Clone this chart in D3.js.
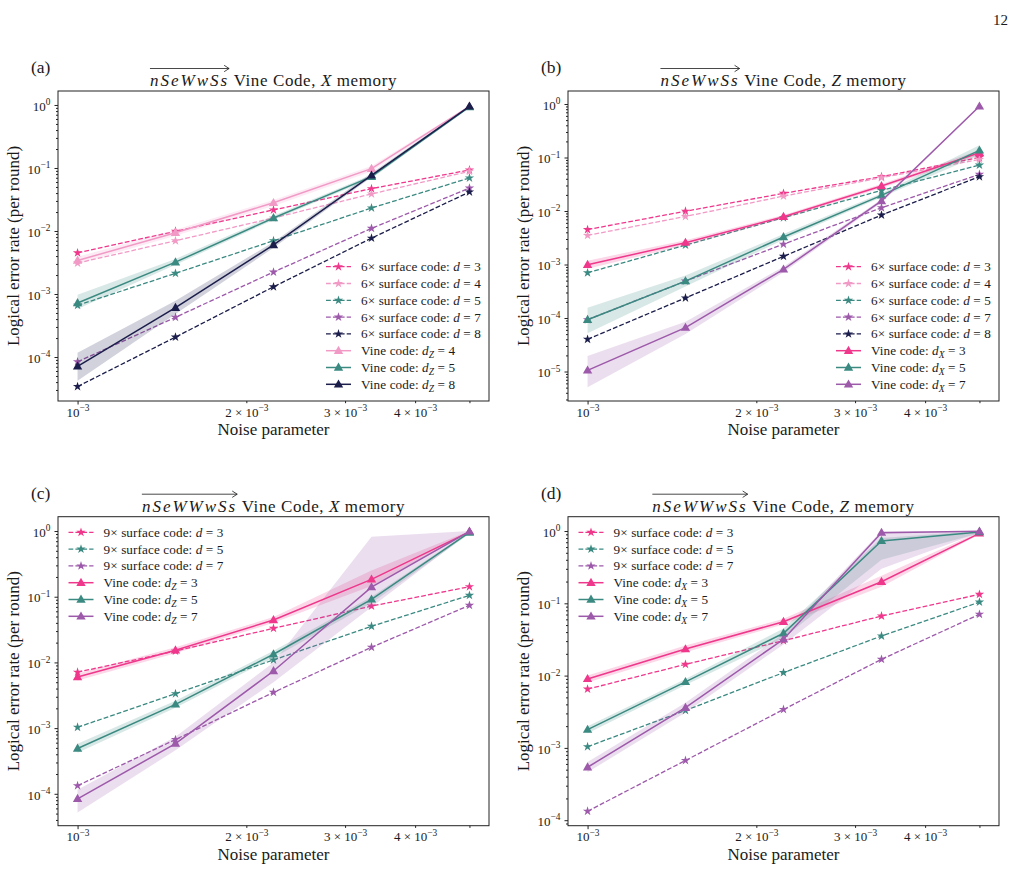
<!DOCTYPE html>
<html><head><meta charset="utf-8">
<script src="https://cdn.jsdelivr.net/npm/d3@7"></script>
<style>
body{margin:0;background:#fff}
svg{display:block}
svg text, svg tspan{font-family:"Liberation Serif","DejaVu Serif",serif;fill:#1a1a1a}
</style>
</head><body>
<svg id="chart" width="1017" height="870" font-family="Liberation Serif, DejaVu Serif, serif"></svg>
<script>
// ---------- data ----------
const noise = [0.001, 0.001495, 0.002236, 0.003344, 0.005];
const xTickValues = [0.001, 0.002, 0.003, 0.004, 0.005];
const xTickPrefix = ["", "2 × ", "3 × ", "4 × ", null];
const xTickExp = ["−3", "−3", "−3", "−3", null];

// Panel (a)
const a_s6_d3 = [4.5e-3, 9.9e-3, 0.0216, 0.047, 0.093];
const a_s6_d4 = [3.1e-3, 7.0e-3, 0.0161, 0.0387, 0.0887];
const a_s6_d5 = [6.6e-4, 2.13e-3, 7.0e-3, 0.0232, 0.0694];
const a_s6_d7 = [8.4e-5, 4.27e-4, 2.23e-3, 0.011, 0.048];
const a_s6_d8 = [3.4e-5, 2.07e-4, 1.3e-3, 7.7e-3, 0.0416];
const a_v4 = [3.4e-3, 9.4e-3, 0.028, 0.0975, 0.95];
const a_v4_lo = [3.0e-3, 8.4e-3, 0.025, 0.088, 0.92];
const a_v4_hi = [3.9e-3, 1.05e-2, 0.031, 0.108, 0.97];
const a_v5 = [7.2e-4, 3.2e-3, 0.0161, 0.0728, 0.93];
const a_v5_lo = [5.8e-4, 2.9e-3, 0.015, 0.068, 0.91];
const a_v5_hi = [9.7e-4, 3.6e-3, 0.0175, 0.078, 0.95];
const a_v8 = [7.1e-5, 6.06e-4, 6.0e-3, 0.0766, 0.95];
const a_v8_lo = [4.2e-5, 4.8e-4, 5.4e-3, 0.071, 0.93];
const a_v8_hi = [1.17e-4, 7.8e-4, 6.7e-3, 0.083, 0.97];

// Panel (b)
const b_s6_d3 = [4.5e-3, 9.9e-3, 0.0214, 0.0438, 0.1];
const b_s6_d4 = [3.5e-3, 7.9e-3, 0.019, 0.042, 0.092];
const b_s6_d5 = [7.0e-4, 2.3e-3, 7.5e-3, 0.0243, 0.072];
const b_s6_d7 = [9.3e-5, 4.9e-4, 2.4e-3, 0.0115, 0.0485];
const b_s6_d8 = [4.0e-5, 2.37e-4, 1.42e-3, 8.4e-3, 0.0438];
const b_v3 = [9.9e-4, 2.56e-3, 7.8e-3, 0.0293, 0.123];
const b_v3_lo = [8.3e-4, 2.3e-3, 7.2e-3, 0.027, 0.11];
const b_v3_hi = [1.18e-3, 2.85e-3, 8.4e-3, 0.032, 0.137];
const b_v5 = [9.3e-5, 4.9e-4, 3.27e-3, 0.0196, 0.136];
const b_v5_lo = [5.2e-5, 3.9e-4, 2.9e-3, 0.018, 0.11];
const b_v5_hi = [1.56e-4, 6.2e-4, 3.7e-3, 0.0215, 0.17];
const b_v7 = [1.05e-5, 6.6e-5, 8.1e-4, 0.0154, 0.905];
const b_v7_lo = [5.1e-6, 5.0e-5, 7.2e-4, 0.0143, 0.88];
const b_v7_hi = [1.95e-5, 8.5e-5, 9.1e-4, 0.0166, 0.93];

// Panel (c)
const c_s9_d3 = [7.1e-3, 0.0149, 0.033, 0.072, 0.142];
const c_s9_d5 = [1.03e-3, 3.34e-3, 0.0109, 0.0355, 0.105];
const c_s9_d7 = [1.33e-4, 6.7e-4, 3.5e-3, 0.017, 0.074];
const c_v3 = [6.0e-3, 0.0153, 0.0442, 0.184, 0.97];
const c_v3_lo = [5.3e-3, 0.0138, 0.040, 0.145, 0.93];
const c_v3_hi = [6.8e-3, 0.017, 0.049, 0.25, 1.0];
const c_v5 = [4.9e-4, 2.3e-3, 0.0133, 0.0912, 0.95];
const c_v5_lo = [4.2e-4, 2.05e-3, 0.0118, 0.08, 0.9];
const c_v5_hi = [5.8e-4, 2.6e-3, 0.015, 0.1, 0.98];
const c_v7 = [8.4e-5, 5.8e-4, 7.4e-3, 0.14, 0.99];
const c_v7_lo = [5.2e-5, 4.6e-4, 5.0e-3, 0.07, 0.95];
const c_v7_hi = [1.15e-4, 7.4e-4, 0.01, 0.82, 1.0];

// Panel (d)
const d_s9_d3 = [6.5e-3, 0.0143, 0.0304, 0.0667, 0.133];
const d_s9_d5 = [1.04e-3, 3.3e-3, 0.011, 0.0353, 0.104];
const d_s9_d7 = [1.33e-4, 6.7e-4, 3.4e-3, 0.0168, 0.0705];
const d_v3 = [9.0e-3, 0.0233, 0.0557, 0.199, 0.93];
const d_v3_lo = [8.0e-3, 0.021, 0.051, 0.17, 0.9];
const d_v3_hi = [1.0e-2, 0.026, 0.061, 0.24, 0.97];
const d_v5 = [1.79e-3, 8.2e-3, 0.0385, 0.73, 0.97];
const d_v5_lo = [1.6e-3, 7.4e-3, 0.033, 0.4, 0.93];
const d_v5_hi = [2.0e-3, 9.0e-3, 0.045, 0.8, 1.0];
const d_v7 = [5.4e-4, 3.6e-3, 0.0318, 0.95, 0.99];
const d_v7_lo = [4.6e-4, 3.1e-3, 0.027, 0.3, 0.95];
const d_v7_hi = [6.4e-4, 4.2e-3, 0.038, 1.0, 1.0];

// axis limits
const xLim = [9.228e-4, 5.418e-3];
const yLimA = [2.004e-5, 1.667];
const yLimB = [2.81e-6, 1.75];
const yLimC = [3.27e-5, 1.652];
const yLimD = [8.39e-5, 1.578];

// ---------- styles ----------
const PINK = "#ef378b", LPINK = "#f19ac6", TEAL = "#3b8a82", PURPLE = "#9d59aa", NAVY = "#1b1d4b";
const FONT = "Liberation Serif, DejaVu Serif, serif";

const svg = d3.select("#chart");

function S(mult, d, color, values) { return {kind: "surface", mult, dval: d, color, values}; }
function V(sub, d, color, values, lo, hi) { return {kind: "vine", sub, dval: d, color, values, lo, hi}; }

const panels = [
  {tag: "(a)", word: "nSeWwSs", mem: "X", left: 58, right: 489, top: 91, bottom: 401, ylim: yLimA, legend: "lr",
   series: [S("6×",3,PINK,a_s6_d3), S("6×",4,LPINK,a_s6_d4), S("6×",5,TEAL,a_s6_d5), S("6×",7,PURPLE,a_s6_d7), S("6×",8,NAVY,a_s6_d8),
            V("Z",4,LPINK,a_v4,a_v4_lo,a_v4_hi), V("Z",5,TEAL,a_v5,a_v5_lo,a_v5_hi), V("Z",8,NAVY,a_v8,a_v8_lo,a_v8_hi)]},
  {tag: "(b)", word: "nSeWwSs", mem: "Z", left: 568, right: 999, top: 91, bottom: 401, ylim: yLimB, legend: "lr",
   series: [S("6×",3,PINK,b_s6_d3), S("6×",4,LPINK,b_s6_d4), S("6×",5,TEAL,b_s6_d5), S("6×",7,PURPLE,b_s6_d7), S("6×",8,NAVY,b_s6_d8),
            V("X",3,PINK,b_v3,b_v3_lo,b_v3_hi), V("X",5,TEAL,b_v5,b_v5_lo,b_v5_hi), V("X",7,PURPLE,b_v7,b_v7_lo,b_v7_hi)]},
  {tag: "(c)", word: "nSeWWwSs", mem: "X", left: 58, right: 489, top: 516.7, bottom: 825.7, ylim: yLimC, legend: "ul",
   series: [S("9×",3,PINK,c_s9_d3), S("9×",5,TEAL,c_s9_d5), S("9×",7,PURPLE,c_s9_d7),
            V("Z",3,PINK,c_v3,c_v3_lo,c_v3_hi), V("Z",5,TEAL,c_v5,c_v5_lo,c_v5_hi), V("Z",7,PURPLE,c_v7,c_v7_lo,c_v7_hi)]},
  {tag: "(d)", word: "nSeWWwSs", mem: "Z", left: 568, right: 999, top: 516.7, bottom: 825.7, ylim: yLimD, legend: "ul",
   series: [S("9×",3,PINK,d_s9_d3), S("9×",5,TEAL,d_s9_d5), S("9×",7,PURPLE,d_s9_d7),
            V("X",3,PINK,d_v3,d_v3_lo,d_v3_hi), V("X",5,TEAL,d_v5,d_v5_lo,d_v5_hi), V("X",7,PURPLE,d_v7,d_v7_lo,d_v7_hi)]}
];

const star = d3.symbol().type(d3.symbolStar).size(27);
const tri = d3.symbol().type(d3.symbolTriangle).size(38);

function txt(sel) { return sel.attr("font-family", FONT); }

function legendLabel(t, s) {
  t.attr("font-size", 13.2).attr("letter-spacing", 0.1);
  if (s.kind === "surface") {
    t.append("tspan").text(s.mult + " surface code: ");
    t.append("tspan").attr("font-style", "italic").text("d");
    t.append("tspan").text(" = " + s.dval);
  } else {
    t.append("tspan").text("Vine code: ");
    t.append("tspan").attr("font-style", "italic").text("d");
    t.append("tspan").attr("font-style", "italic").attr("font-size", 9.5).attr("dy", 3).text(s.sub);
    t.append("tspan").attr("dy", -3).text(" = " + s.dval);
  }
}

function supLabel(t, prefix, exp, size) {
  t.text(null);
  t.append("tspan").text(prefix + "10");
  t.append("tspan").attr("dy", -5.5).attr("font-size", size * 0.72).text(exp);
}

panels.forEach((p, pi) => {
  const g = svg.append("g").attr("font-family", FONT);
  const x = d3.scaleLog().domain(xLim).range([p.left, p.right]);
  const y = d3.scaleLog().domain(p.ylim).range([p.bottom, p.top]);

  const clipId = "clip" + pi;
  g.append("clipPath").attr("id", clipId).append("rect")
    .attr("x", p.left).attr("y", p.top).attr("width", p.right - p.left).attr("height", p.bottom - p.top);
  const plot = g.append("g").attr("clip-path", `url(#${clipId})`);

  const line = d3.line().x((d, i) => x(noise[i])).y(d => y(d));
  const area = d3.area().x(d => x(d.x)).y0(d => y(d.lo)).y1(d => y(d.hi));

  p.series.filter(s => s.kind === "surface").forEach(s => {
    plot.append("path").datum(s.values).attr("d", line).attr("fill", "none")
      .attr("stroke", s.color).attr("stroke-width", 1.3).attr("stroke-dasharray", "4.8,2.1");
    plot.selectAll(null).data(s.values).enter().append("path")
      .attr("d", star).attr("transform", (d, i) => `translate(${x(noise[i])},${y(d)})`)
      .attr("fill", s.color);
  });
  p.series.filter(s => s.kind === "vine").forEach(s => {
    plot.append("path").datum(noise.map((xv, i) => ({x: xv, lo: s.lo[i], hi: s.hi[i]})))
      .attr("d", area).attr("fill", s.color).attr("fill-opacity", 0.2);
  });
  p.series.filter(s => s.kind === "vine").forEach(s => {
    plot.append("path").datum(s.values).attr("d", line).attr("fill", "none")
      .attr("stroke", s.color).attr("stroke-width", 1.5);
    plot.selectAll(null).data(s.values).enter().append("path")
      .attr("d", tri).attr("transform", (d, i) => `translate(${x(noise[i])},${y(d) + 0.5})`)
      .attr("fill", s.color);
  });

  // x axis
  const xa = g.append("g").attr("transform", `translate(0,${p.bottom})`)
    .call(d3.axisBottom(x).tickValues(xTickValues).tickSizeOuter(0).tickPadding(3));
  xa.attr("font-family", FONT);
  xa.select(".domain").remove();
  xa.selectAll(".tick line").attr("stroke", "#222").attr("y2", (d) => d === 0.001 ? 3.5 : 2.2);
  xa.selectAll(".tick text").attr("font-size", 13).attr("font-family", FONT).attr("fill", "#222")
    .attr("y", 15.5).attr("dy", 0)
    .each(function(d, i) {
      const t = d3.select(this);
      if (xTickPrefix[i] === null) { t.text(null); return; }
      supLabel(t, xTickPrefix[i], xTickExp[i], 13);
    });

  // y axis
  const lo = Math.ceil(Math.log10(p.ylim[0]) - 1e-9), hi = Math.floor(Math.log10(p.ylim[1]) + 1e-9);
  const majors = d3.range(lo, hi + 1).map(k => Math.pow(10, k));
  const minors = [];
  for (let k = lo - 1; k <= hi; k++) for (let m = 2; m <= 9; m++) {
    const v = m * Math.pow(10, k);
    if (v >= p.ylim[0] && v <= p.ylim[1]) minors.push(v);
  }
  const yMin = g.append("g").attr("transform", `translate(${p.left},0)`)
    .call(d3.axisLeft(y).tickValues(minors).tickSize(2).tickFormat(""));
  yMin.select(".domain").remove();
  yMin.selectAll("line").attr("stroke", "#222");
  const yMaj = g.append("g").attr("transform", `translate(${p.left},0)`)
    .call(d3.axisLeft(y).tickValues(majors).tickSize(3.5).tickPadding(4));
  yMaj.attr("font-family", FONT);
  yMaj.select(".domain").remove();
  yMaj.selectAll("line").attr("stroke", "#222");
  yMaj.selectAll(".tick text").attr("font-size", 13).attr("font-family", FONT).attr("fill", "#222")
    .attr("dy", "0.4em")
    .each(function(d) {
      const k = Math.round(Math.log10(d));
      supLabel(d3.select(this), "", k < 0 ? "−" + (-k) : String(k), 13);
    });

  g.append("rect").attr("x", p.left).attr("y", p.top).attr("width", p.right - p.left).attr("height", p.bottom - p.top)
    .attr("fill", "none").attr("stroke", "#222").attr("stroke-width", 1);

  const cx = (p.left + p.right) / 2;
  txt(g.append("text")).attr("x", cx).attr("y", p.bottom + 34).attr("text-anchor", "middle")
    .attr("font-size", 17).text("Noise parameter");
  txt(g.append("text")).attr("transform", `translate(${p.left - 39},${(p.top + p.bottom) / 2}) rotate(-90)`)
    .attr("text-anchor", "middle").attr("font-size", 17).text("Logical error rate (per round)");

  txt(g.append("text")).attr("x", p.left - 27).attr("y", p.top - 18).attr("font-size", 17.5).text(p.tag);

  const tt = txt(g.append("text")).attr("y", p.top - 5).attr("font-size", 17);
  const w = tt.append("tspan").attr("font-style", "italic").attr("letter-spacing", 2).text(p.word);
  tt.append("tspan").attr("letter-spacing", 0.6).text(" Vine Code, ");
  tt.append("tspan").attr("font-style", "italic").attr("letter-spacing", 0.6).text(p.mem);
  tt.append("tspan").attr("letter-spacing", 0.6).text(" memory");
  const full = tt.node().getComputedTextLength();
  const wl = w.node().getComputedTextLength();
  const x0 = cx - full / 2;
  tt.attr("x", x0);
  const ay = p.top - 22.5;
  g.append("path").attr("d", `M${x0},${ay}H${x0 + wl}M${x0 + wl - 5},${ay - 3.2}L${x0 + wl},${ay}L${x0 + wl - 5},${ay + 3.2}`)
    .attr("fill", "none").attr("stroke", "#1a1a1a").attr("stroke-width", 0.8);

  let lx, ly;
  const rowH = 16.8;
  if (p.legend === "lr") { lx = p.right - 163; ly = p.bottom - 134.3; }
  else { lx = p.left + 10.5; ly = p.top + 15.6; }
  p.series.forEach((s, i) => {
    const yy = ly + i * rowH;
    const h = g.append("g");
    h.append("line").attr("x1", lx).attr("x2", lx + 25).attr("y1", yy).attr("y2", yy)
      .attr("stroke", s.color).attr("stroke-width", s.kind === "vine" ? 1.5 : 1.3)
      .attr("stroke-dasharray", s.kind === "vine" ? null : "4.8,2.1");
    h.append("path").attr("d", s.kind === "vine" ? tri : star)
      .attr("transform", `translate(${lx + 12.5},${yy + (s.kind === "vine" ? 0.5 : 0)})`).attr("fill", s.color);
    const t = txt(g.append("text")).attr("x", lx + 35).attr("y", yy + 4.5);
    legendLabel(t, s);
  });
});

txt(svg.append("text")).attr("x", 1008).attr("y", 25).attr("text-anchor", "end").attr("font-size", 15).text("12");
</script>
</body></html>
